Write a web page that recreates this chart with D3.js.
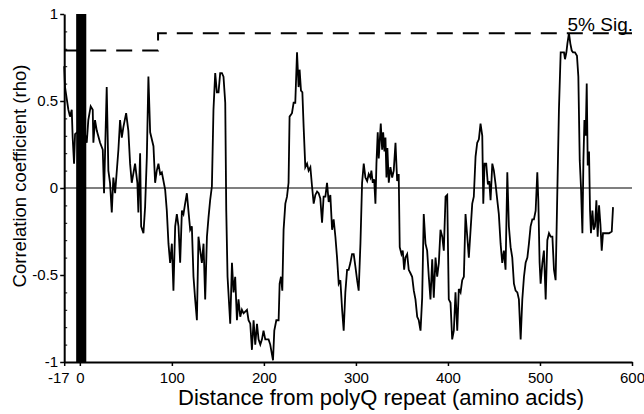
<!DOCTYPE html>
<html>
<head>
<meta charset="utf-8">
<script src="https://cdn.jsdelivr.net/npm/d3@7"></script>
<style>
    body { margin: 0; background: #fff; }
    svg { display: block; }
    .tick text { font-family: "Liberation Sans", Arial, sans-serif; }
</style>
</head>
<body>
<div id="chart-container"></div>
<script>
// Sumbu dan tick
const xTicks = [-17, 0, 100, 200, 300, 400, 500, 600];
const yTicks = [-1, -0.5, 0, 0.5, 1];

// Daerah polyQ (batang hitam)
const polyQStart = -4;
const polyQEnd = 7;

// Garis signifikansi 5%
const sigDistance = [-17, 85, 85, 600];
const sigLevel = [0.79, 0.79, 0.89, 0.89];

// Jarak dari polyQ repeat (asam amino)
const distance = [
    -17, -16.1, -12.5, -10.7, -8.8, -7.8, -6.3, -5.2, -3, 2, 6,
    7.5, 9.2, 11.8, 14.0, 14.7, 16.5, 18.4, 22.0, 24.9, 26.3, 29.2, 31.0, 32.8, 34.7, 36.4, 38.3,
    41.9, 43.7, 45.6, 47.3, 50.3, 52.7, 54.6, 56.4, 60.0, 62.5, 63.6, 65.5, 66.6, 69.1, 70.9, 72.8,
    74.5, 76.4, 80.0, 81.8, 83.6, 85.4, 87.3, 89.1, 92.7, 94.5, 96.3, 98.1, 100.0, 101.7, 103.6,
    105.4, 107.2, 109.0, 110.9, 112.6, 114.4, 116.3, 118.0, 119.9, 121.7, 123.5, 125.3, 127.2,
    128.9, 130.8, 132.6, 134.4, 136.2, 138.1, 139.8, 141.6, 143.5, 145.2, 147.1, 148.9, 150.7,
    152.5, 154.4, 156.1, 158.0, 159.1, 160.5, 163.4, 165.3, 167.0, 168.8, 170.7, 172.4, 174.3,
    176.1, 177.9, 179.7, 181.6, 183.3, 185.2, 187.0, 188.8, 190.6, 192.5, 194.2, 196.1, 197.9,
    199.6, 201.5, 203.3, 205.1, 206.9, 209.9, 211.3, 213.5, 216.0, 217.1, 218.6, 220.0, 221.4,
    223.3, 225.1, 226.8, 227.9, 230.5, 232.3, 234.1, 236.0, 237.7, 238.8, 240.3, 241.8, 243.2,
    245.0, 246.9, 248.6, 250.5, 252.3, 254.1, 255.9, 257.8, 259.5, 261.3, 263.2, 264.9, 266.8,
    268.6, 270.4, 272.2, 274.1, 275.8, 277.7, 279.5, 281.3, 283.1, 285.0, 286.7, 288.5, 290.4,
    292.1, 294.0, 295.8, 297.6, 299.4, 301.3, 303.0, 304.9, 306.7, 308.5, 310.3, 312.2, 313.9,
    315.7, 316.8, 318.3, 319.8, 321.2, 322.3, 323.7, 324.8, 325.9, 327.0, 328.5, 329.6, 331.0,
    332.1, 333.2, 334.2, 335.7, 337.5, 339.4, 341.1, 343.0, 344.8, 346.5, 347.6, 349.5, 350.9,
    352.4, 353.8, 355.7, 357.4, 359.3, 361.1, 362.9, 364.7, 366.6, 368.3, 370.2, 372.0, 373.7,
    375.6, 377.4, 379.2, 381.0, 382.9, 384.6, 386.5, 388.3, 390.1, 391.9, 393.8, 395.5, 397.4,
    399.2, 400.9, 402.8, 404.6, 406.4, 408.2, 410.1, 411.8, 413.7, 415.5, 417.3, 419.1, 421.0,
    422.7, 424.6, 426.4, 428.1, 430.0, 431.8, 433.6, 435.4, 437.3, 438.4, 439.8, 441.6, 443.4,
    444.9, 446.3, 448.2, 449.9, 451.8, 453.6, 455.3, 457.2, 459.0, 460.8, 462.6, 464.5, 466.2,
    468.1, 469.9, 471.7, 473.5, 475.4, 477.1, 479.0, 480.8, 482.6, 484.4, 486.3, 488.0, 489.8,
    491.7, 493.4, 495.3, 497.1, 498.2, 499.6, 500.7, 502.6, 504.3, 506.2, 508.0, 509.8, 511.6,
    513.5, 515.2, 517.0, 518.9, 520.6, 522.5, 524.3, 526.1, 527.2, 528.7, 529.8, 531.5, 533.0,
    534.5, 535.9, 538.0, 540.2, 541.7, 543.2, 544.6, 546.1, 547.2, 548.3, 549.7, 550.8, 551.9,
    553.3, 554.4, 555.4, 557.0, 558.4, 559.8, 561.3, 562.7, 564.2, 565.7, 567.1, 568.5, 571.4,
    575.0, 578.0, 579.4
];

// Koefisien korelasi (rho)
const rho = [
    0.70, 0.58, 0.45, 0.41, 0.45, 0.29, 0.14, 0.31, 0.32, 0.28, 0.30,
    0.26, 0.39, 0.47, 0.45, 0.26, 0.39, 0.33, 0.26, 0.22, -0.03, 0.58, 0.10, 0.03, -0.14, 0.06, -0.03,
    0.22, 0.39, 0.29, 0.35, 0.43, 0.33, 0.14, 0.03, 0.14, 0.03, -0.14, 0.20, -0.22, -0.26, -0.11, 0.18,
    0.64, 0.32, 0.24, 0.03, 0.10, 0.14, 0.08, 0.09, -0.01, -0.13, -0.32, -0.43, -0.32, -0.59, -0.22,
    -0.15, -0.22, -0.43, -0.13, -0.15, -0.09, -0.03, -0.13, -0.24, -0.22, -0.51, -0.64, -0.76,
    -0.28, -0.36, -0.43, -0.32, -0.64, -0.28, -0.17, -0.07, 0.01, 0.45, 0.66, 0.55, 0.55,
    0.66, 0.66, 0.64, 0.49, -0.13, -0.51, -0.78, -0.43, -0.60, -0.51, -0.76, -0.64, -0.74,
    -0.70, -0.72, -0.71, -0.70, -0.76, -0.78, -0.93, -0.76, -0.90, -0.78, -0.87, -0.90, -0.87,
    -0.82, -0.87, -0.87, -0.87, -0.90, -0.99, -0.82, -0.76, -0.76, -0.55, -0.51, -0.59, -0.24,
    -0.09, -0.05, 0.03, 0.41, 0.43, 0.49, 0.49, 0.78, 0.58, 0.68, 0.56, 0.55, 0.35,
    0.12, 0.14, 0.10, 0.12, 0.01, -0.09, -0.04, -0.02, -0.03, -0.06, -0.20, -0.05, -0.05,
    0.03, -0.08, -0.04, -0.24, -0.18, -0.28, -0.40, -0.55, -0.53, -0.70, -0.82, -0.60, -0.47,
    -0.47, -0.43, -0.38, -0.38, -0.45, -0.53, -0.59, -0.32, 0.03, 0.14, 0.06, 0.04, 0.08,
    0.06, 0.10, 0.03, 0.05, -0.09, 0.14, 0.32, 0.17, 0.27, 0.37, 0.22, 0.32, 0.21,
    0.29, 0.06, 0.23, 0.03, 0.12, 0.06, 0.10, 0.26, 0.04, 0.08, -0.34, -0.38, -0.36,
    -0.47, -0.40, -0.38, -0.47, -0.49, -0.51, -0.59, -0.64, -0.74, -0.76, -0.82, -0.63, -0.15,
    -0.32, -0.36, -0.51, -0.64, -0.41, -0.63, -0.40, -0.51, -0.43, -0.24, -0.28, -0.36, -0.05,
    -0.04, -0.64, -0.66, -0.87, -0.82, -0.60, -0.82, -0.58, -0.60, -0.53, -0.51, -0.15, -0.28,
    -0.40, -0.24, -0.09, -0.05, 0.18, 0.26, 0.28, 0.37, 0.30, -0.09, 0.14, 0.14, 0.02,
    0.04, -0.07, 0.14, 0.10, 0.02, -0.07, -0.15, -0.32, -0.43, -0.36, -0.47, 0.09, -0.22,
    -0.34, -0.40, -0.55, -0.59, -0.60, -0.64, -0.87, -0.64, -0.51, -0.43, -0.40, -0.32, -0.22,
    -0.18, -0.18, -0.13, 0.09, -0.07, -0.43, -0.55, -0.43, -0.36, -0.64, -0.30, -0.26, -0.28,
    -0.28, -0.47, -0.53, -0.01, 0.45, 0.78, 0.78, 0.78, 0.74, 0.78, 0.83, 0.89, 0.83,
    0.79, 0.78, 0.78, 0.76, 0.64, 0.16, 0.00, -0.26, 0.16, 0.39, 0.30, 0.60, 0.13,
    0.21, -0.13, -0.26, -0.13, -0.24, -0.22, -0.07, -0.28, -0.10, -0.21, -0.36, -0.26, -0.26,
    -0.26, -0.25, -0.11
];

const W = 644, H = 414;
const plot = { left: 64.2, right: 632, top: 14, bottom: 362 };

const svg = d3.select("#chart-container")
    .append("svg")
    .attr("width", W)
    .attr("height", H);

svg.append("rect").attr("width", W).attr("height", H).attr("fill", "#fff");

const x = d3.scaleLinear().domain([-17, 600]).range([plot.left, plot.right]);
const y = d3.scaleLinear().domain([-1, 1]).range([plot.bottom, plot.top]);

// Garis nol
svg.append("line")
    .attr("x1", x(-17)).attr("x2", x(600))
    .attr("y1", y(0)).attr("y2", y(0))
    .attr("stroke", "#000")
    .attr("stroke-width", 1.2);

// Garis signifikansi (putus-putus)
const sigData = sigDistance.map((d, i) => ({ d, v: sigLevel[i] }));
svg.append("path")
    .datum(sigData)
    .attr("fill", "none")
    .attr("stroke", "#000")
    .attr("stroke-width", 2)
    .attr("stroke-dasharray", "16,10")
    .attr("d", d3.line().x((p) => x(p.d)).y((p) => y(p.v)));

// Garis korelasi
const lineData = distance.map((d, i) => ({ d, v: rho[i] }));
svg.append("path")
    .datum(lineData)
    .attr("fill", "none")
    .attr("stroke", "#000")
    .attr("stroke-width", 1.8)
    .attr("stroke-linejoin", "miter")
    .attr("d", d3.line().x((p) => x(p.d)).y((p) => y(p.v)));

// Batang hitam polyQ
svg.append("rect")
    .attr("x", x(polyQStart))
    .attr("y", y(1))
    .attr("width", x(polyQEnd) - x(polyQStart))
    .attr("height", y(-1) - y(1))
    .attr("fill", "#000");

// Label 5% Sig.
svg.append("text")
    .attr("x", 633)
    .attr("y", 31)
    .attr("text-anchor", "end")
    .style("font-family", "Liberation Sans, Arial, sans-serif")
    .style("font-size", "19px")
    .text("5% Sig.");

// Sumbu X
const xAxis = svg.append("g")
    .attr("transform", `translate(0,${plot.bottom})`)
    .call(d3.axisBottom(x).tickValues(xTicks).tickSize(4).tickSizeOuter(0).tickFormat(String));
xAxis.select(".domain").attr("stroke-width", 2);
xAxis.selectAll(".tick line").attr("stroke-width", 1.5);
xAxis.selectAll("text").style("font-size", "15px").attr("dy", "0.85em").attr("y", 8);
// Label -17 digeser ke kiri agar tidak menimpa label 0
xAxis.selectAll(".tick text")
    .filter((d) => d === -17)
    .attr("text-anchor", "end")
    .attr("x", 5);

// Sumbu Y
const yAxis = svg.append("g")
    .attr("transform", `translate(${plot.left},0)`)
    .call(d3.axisLeft(y).tickValues(yTicks).tickSize(4).tickSizeOuter(0).tickFormat(String));
yAxis.select(".domain").attr("stroke-width", 2);
yAxis.selectAll(".tick line").attr("stroke-width", 1.5);
yAxis.selectAll("text").style("font-size", "15px").attr("x", -6);

// Tick minor Y (ke dalam)
const minorTicks = d3.range(-9, 10).map((i) => i / 10).filter((v) => Math.abs(v % 0.5) > 1e-9);
svg.append("g")
    .attr("transform", `translate(${plot.left},0)`)
    .call(d3.axisRight(y).tickValues(minorTicks).tickSize(3).tickFormat(""))
    .call((g) => g.select(".domain").remove());

// Label sumbu
svg.append("text")
    .attr("x", 381)
    .attr("y", 405)
    .attr("text-anchor", "middle")
    .style("font-family", "Liberation Sans, Arial, sans-serif")
    .style("font-size", "22px")
    .text("Distance from polyQ repeat (amino acids)");

svg.append("text")
    .attr("transform", "translate(26,176) rotate(-90)")
    .attr("text-anchor", "middle")
    .style("font-family", "Liberation Sans, Arial, sans-serif")
    .style("font-size", "18.5px")
    .text("Correlation coefficient (rho)");
</script>
</body>
</html>
